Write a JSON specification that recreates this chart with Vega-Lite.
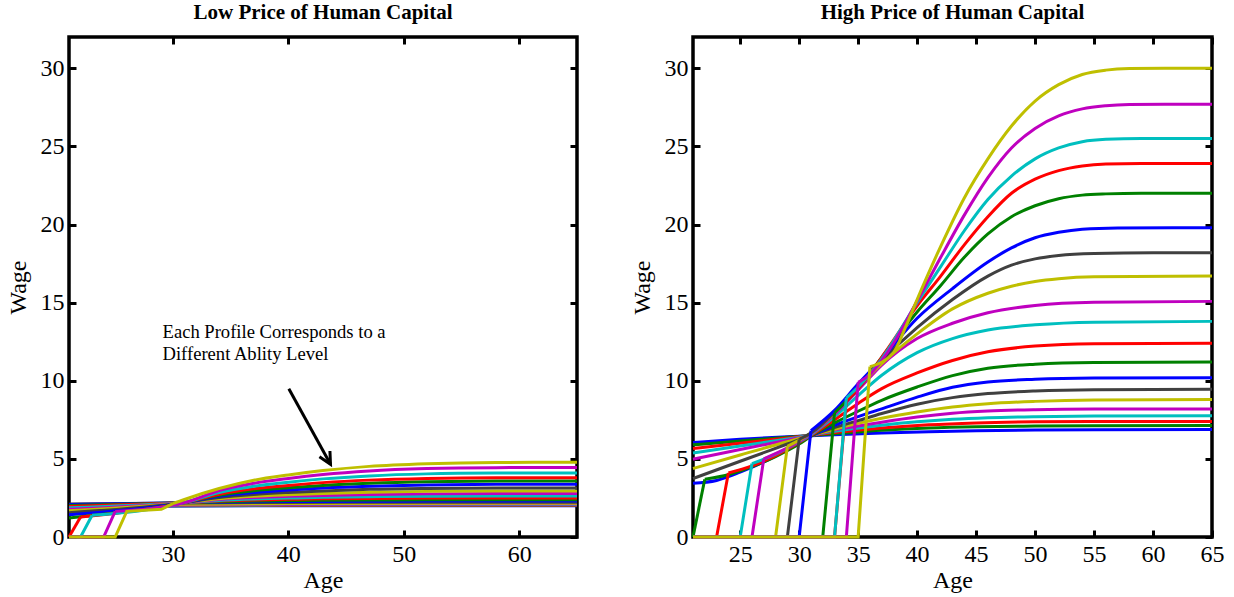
{
"$schema":"https://vega.github.io/schema/vega-lite/v6.json",
"background":"white",
"padding":{"left":4,"top":0,"right":4,"bottom":0},
"datasets":{"d":[
{"p":"H","c":1,"s":"c","a":21,"w":6.05},{"p":"H","c":1,"s":"c","a":25,"w":6.25},{"p":"H","c":1,"s":"c","a":29,"w":6.42},{"p":"H","c":1,"s":"c","a":33,"w":6.55},{"p":"H","c":1,"s":"c","a":37,"w":6.66},{"p":"H","c":1,"s":"c","a":41,"w":6.74},{"p":"H","c":1,"s":"c","a":45,"w":6.8},{"p":"H","c":1,"s":"c","a":50,"w":6.85},{"p":"H","c":1,"s":"c","a":55,"w":6.87},{"p":"H","c":1,"s":"c","a":65,"w":6.88},
{"p":"H","c":2,"s":"c","a":21,"w":5.9},{"p":"H","c":2,"s":"c","a":25,"w":6.15},{"p":"H","c":2,"s":"c","a":29,"w":6.38},{"p":"H","c":2,"s":"c","a":33,"w":6.6},{"p":"H","c":2,"s":"c","a":37,"w":6.83},{"p":"H","c":2,"s":"c","a":41,"w":6.98},{"p":"H","c":2,"s":"c","a":45,"w":7.06},{"p":"H","c":2,"s":"c","a":50,"w":7.1},{"p":"H","c":2,"s":"c","a":55,"w":7.12},{"p":"H","c":2,"s":"c","a":65,"w":7.13},
{"p":"H","c":3,"s":"c","a":21,"w":5.66},{"p":"H","c":3,"s":"c","a":25,"w":6.0},{"p":"H","c":3,"s":"c","a":29,"w":6.33},{"p":"H","c":3,"s":"c","a":33,"w":6.68},{"p":"H","c":3,"s":"c","a":37,"w":6.97},{"p":"H","c":3,"s":"c","a":41,"w":7.18},{"p":"H","c":3,"s":"c","a":45,"w":7.3},{"p":"H","c":3,"s":"c","a":50,"w":7.37},{"p":"H","c":3,"s":"c","a":55,"w":7.39},{"p":"H","c":3,"s":"c","a":65,"w":7.4},
{"p":"H","c":4,"s":"c","a":21,"w":5.37},{"p":"H","c":4,"s":"c","a":25,"w":5.82},{"p":"H","c":4,"s":"c","a":29,"w":6.27},{"p":"H","c":4,"s":"c","a":33,"w":6.76},{"p":"H","c":4,"s":"c","a":37,"w":7.15},{"p":"H","c":4,"s":"c","a":40,"w":7.37},{"p":"H","c":4,"s":"c","a":43,"w":7.53},{"p":"H","c":4,"s":"c","a":46,"w":7.63},{"p":"H","c":4,"s":"c","a":50,"w":7.7},{"p":"H","c":4,"s":"c","a":55,"w":7.74},{"p":"H","c":4,"s":"c","a":65,"w":7.76},
{"p":"H","c":5,"s":"c","a":21,"w":4.98},{"p":"H","c":5,"s":"c","a":25,"w":5.6},{"p":"H","c":5,"s":"c","a":29,"w":6.2},{"p":"H","c":5,"s":"c","a":31,"w":6.5},{"p":"H","c":5,"s":"c","a":33,"w":6.85},{"p":"H","c":5,"s":"c","a":35,"w":7.1},{"p":"H","c":5,"s":"c","a":37,"w":7.35},{"p":"H","c":5,"s":"c","a":40,"w":7.68},{"p":"H","c":5,"s":"c","a":43,"w":7.92},{"p":"H","c":5,"s":"c","a":46,"w":8.06},{"p":"H","c":5,"s":"c","a":50,"w":8.15},{"p":"H","c":5,"s":"c","a":55,"w":8.19},{"p":"H","c":5,"s":"c","a":65,"w":8.2},
{"p":"H","c":6,"s":"c","a":21,"w":4.38},{"p":"H","c":6,"s":"c","a":25,"w":5.25},{"p":"H","c":6,"s":"c","a":29,"w":6.1},{"p":"H","c":6,"s":"c","a":31,"w":6.5},{"p":"H","c":6,"s":"c","a":33,"w":6.9},{"p":"H","c":6,"s":"c","a":35,"w":7.27},{"p":"H","c":6,"s":"c","a":37,"w":7.6},{"p":"H","c":6,"s":"c","a":40,"w":8.0},{"p":"H","c":6,"s":"c","a":43,"w":8.32},{"p":"H","c":6,"s":"c","a":46,"w":8.53},{"p":"H","c":6,"s":"c","a":50,"w":8.68},{"p":"H","c":6,"s":"c","a":55,"w":8.77},{"p":"H","c":6,"s":"c","a":65,"w":8.8},
{"p":"H","c":7,"s":"c","a":21,"w":3.74},{"p":"H","c":7,"s":"c","a":25,"w":4.85},{"p":"H","c":7,"s":"c","a":29,"w":5.95},{"p":"H","c":7,"s":"c","a":31,"w":6.5},{"p":"H","c":7,"s":"c","a":33,"w":7.0},{"p":"H","c":7,"s":"c","a":35,"w":7.45},{"p":"H","c":7,"s":"c","a":37,"w":7.9},{"p":"H","c":7,"s":"c","a":40,"w":8.5},{"p":"H","c":7,"s":"c","a":43,"w":8.92},{"p":"H","c":7,"s":"c","a":46,"w":9.18},{"p":"H","c":7,"s":"c","a":50,"w":9.35},{"p":"H","c":7,"s":"c","a":55,"w":9.43},{"p":"H","c":7,"s":"c","a":65,"w":9.45},
{"p":"H","c":8,"s":"c","a":21,"w":3.44},{"p":"H","c":8,"s":"c","a":23,"w":3.62},{"p":"H","c":8,"s":"c","a":25,"w":4.15},{"p":"H","c":8,"s":"c","a":27,"w":4.8},{"p":"H","c":8,"s":"c","a":29,"w":5.6},{"p":"H","c":8,"s":"c","a":31,"w":6.45},{"p":"H","c":8,"s":"c","a":33,"w":7.15},{"p":"H","c":8,"s":"c","a":35,"w":7.7},{"p":"H","c":8,"s":"c","a":37,"w":8.2},{"p":"H","c":8,"s":"c","a":40,"w":8.95},{"p":"H","c":8,"s":"c","a":43,"w":9.58},{"p":"H","c":8,"s":"c","a":46,"w":9.92},{"p":"H","c":8,"s":"c","a":50,"w":10.1},{"p":"H","c":8,"s":"c","a":55,"w":10.18},{"p":"H","c":8,"s":"c","a":65,"w":10.2},
{"p":"H","c":9,"s":"j","a":21,"w":0},{"p":"H","c":9,"s":"j","a":22,"w":3.7},
{"p":"H","c":9,"s":"c","a":22,"w":3.7},{"p":"H","c":9,"s":"c","a":24,"w":3.98},{"p":"H","c":9,"s":"c","a":26,"w":4.5},{"p":"H","c":9,"s":"c","a":28,"w":5.15},{"p":"H","c":9,"s":"c","a":30,"w":5.95},{"p":"H","c":9,"s":"c","a":31,"w":6.45},{"p":"H","c":9,"s":"c","a":33,"w":7.3},{"p":"H","c":9,"s":"c","a":35,"w":8.05},{"p":"H","c":9,"s":"c","a":37,"w":8.75},{"p":"H","c":9,"s":"c","a":40,"w":9.6},{"p":"H","c":9,"s":"c","a":43,"w":10.33},{"p":"H","c":9,"s":"c","a":46,"w":10.8},{"p":"H","c":9,"s":"c","a":50,"w":11.06},{"p":"H","c":9,"s":"c","a":55,"w":11.17},{"p":"H","c":9,"s":"c","a":65,"w":11.2},
{"p":"H","c":10,"s":"j","a":21,"w":0},{"p":"H","c":10,"s":"j","a":23,"w":0},{"p":"H","c":10,"s":"j","a":24,"w":4.1},
{"p":"H","c":10,"s":"c","a":24,"w":4.1},{"p":"H","c":10,"s":"c","a":26,"w":4.55},{"p":"H","c":10,"s":"c","a":28,"w":5.2},{"p":"H","c":10,"s":"c","a":30,"w":6.05},{"p":"H","c":10,"s":"c","a":31,"w":6.5},{"p":"H","c":10,"s":"c","a":33,"w":7.5},{"p":"H","c":10,"s":"c","a":35,"w":8.55},{"p":"H","c":10,"s":"c","a":37,"w":9.5},{"p":"H","c":10,"s":"c","a":40,"w":10.5},{"p":"H","c":10,"s":"c","a":43,"w":11.3},{"p":"H","c":10,"s":"c","a":46,"w":11.85},{"p":"H","c":10,"s":"c","a":50,"w":12.22},{"p":"H","c":10,"s":"c","a":55,"w":12.37},{"p":"H","c":10,"s":"c","a":65,"w":12.4},
{"p":"H","c":11,"s":"j","a":21,"w":0},{"p":"H","c":11,"s":"j","a":25,"w":0},{"p":"H","c":11,"s":"j","a":26,"w":4.7},
{"p":"H","c":11,"s":"c","a":26,"w":4.7},{"p":"H","c":11,"s":"c","a":28,"w":5.3},{"p":"H","c":11,"s":"c","a":30,"w":6.1},{"p":"H","c":11,"s":"c","a":31,"w":6.55},{"p":"H","c":11,"s":"c","a":33,"w":7.7},{"p":"H","c":11,"s":"c","a":35,"w":9.05},{"p":"H","c":11,"s":"c","a":37,"w":10.35},{"p":"H","c":11,"s":"c","a":40,"w":11.8},{"p":"H","c":11,"s":"c","a":43,"w":12.7},{"p":"H","c":11,"s":"c","a":46,"w":13.25},{"p":"H","c":11,"s":"c","a":50,"w":13.58},{"p":"H","c":11,"s":"c","a":55,"w":13.75},{"p":"H","c":11,"s":"c","a":65,"w":13.8},
{"p":"H","c":12,"s":"j","a":21,"w":0},{"p":"H","c":12,"s":"j","a":26,"w":0},{"p":"H","c":12,"s":"j","a":27,"w":5.0},
{"p":"H","c":12,"s":"c","a":27,"w":5.0},{"p":"H","c":12,"s":"c","a":29,"w":5.7},{"p":"H","c":12,"s":"c","a":31,"w":6.6},{"p":"H","c":12,"s":"c","a":33,"w":7.85},{"p":"H","c":12,"s":"c","a":35,"w":9.4},{"p":"H","c":12,"s":"c","a":37,"w":11.0},{"p":"H","c":12,"s":"c","a":40,"w":12.7},{"p":"H","c":12,"s":"c","a":43,"w":13.68},{"p":"H","c":12,"s":"c","a":46,"w":14.35},{"p":"H","c":12,"s":"c","a":50,"w":14.82},{"p":"H","c":12,"s":"c","a":55,"w":15.02},{"p":"H","c":12,"s":"c","a":65,"w":15.08},
{"p":"H","c":13,"s":"j","a":21,"w":0},{"p":"H","c":13,"s":"j","a":28,"w":0},{"p":"H","c":13,"s":"j","a":29,"w":5.8},
{"p":"H","c":13,"s":"c","a":29,"w":5.8},{"p":"H","c":13,"s":"c","a":31,"w":6.65},{"p":"H","c":13,"s":"c","a":33,"w":7.95},{"p":"H","c":13,"s":"c","a":35,"w":9.6},{"p":"H","c":13,"s":"c","a":37,"w":11.1},{"p":"H","c":13,"s":"c","a":40,"w":13.0},{"p":"H","c":13,"s":"c","a":43,"w":14.6},{"p":"H","c":13,"s":"c","a":46,"w":15.6},{"p":"H","c":13,"s":"c","a":48,"w":16.05},{"p":"H","c":13,"s":"c","a":50,"w":16.35},{"p":"H","c":13,"s":"c","a":52,"w":16.53},{"p":"H","c":13,"s":"c","a":55,"w":16.65},{"p":"H","c":13,"s":"c","a":65,"w":16.7},
{"p":"H","c":14,"s":"j","a":21,"w":0},{"p":"H","c":14,"s":"j","a":29,"w":0},{"p":"H","c":14,"s":"j","a":30,"w":6.25},
{"p":"H","c":14,"s":"c","a":30,"w":6.25},{"p":"H","c":14,"s":"c","a":31,"w":6.65},{"p":"H","c":14,"s":"c","a":33,"w":8.0},{"p":"H","c":14,"s":"c","a":35,"w":9.7},{"p":"H","c":14,"s":"c","a":37,"w":11.3},{"p":"H","c":14,"s":"c","a":40,"w":13.4},{"p":"H","c":14,"s":"c","a":43,"w":15.2},{"p":"H","c":14,"s":"c","a":46,"w":16.7},{"p":"H","c":14,"s":"c","a":48,"w":17.4},{"p":"H","c":14,"s":"c","a":50,"w":17.8},{"p":"H","c":14,"s":"c","a":52,"w":18.02},{"p":"H","c":14,"s":"c","a":55,"w":18.15},{"p":"H","c":14,"s":"c","a":60,"w":18.2},{"p":"H","c":14,"s":"c","a":65,"w":18.2},
{"p":"H","c":15,"s":"j","a":21,"w":0},{"p":"H","c":15,"s":"j","a":30,"w":0},{"p":"H","c":15,"s":"j","a":31,"w":6.8},
{"p":"H","c":15,"s":"c","a":31,"w":6.8},{"p":"H","c":15,"s":"c","a":33,"w":8.1},{"p":"H","c":15,"s":"c","a":35,"w":9.8},{"p":"H","c":15,"s":"c","a":37,"w":11.4},{"p":"H","c":15,"s":"c","a":40,"w":14.0},{"p":"H","c":15,"s":"c","a":43,"w":15.9},{"p":"H","c":15,"s":"c","a":46,"w":17.6},{"p":"H","c":15,"s":"c","a":48,"w":18.5},{"p":"H","c":15,"s":"c","a":50,"w":19.15},{"p":"H","c":15,"s":"c","a":52,"w":19.5},{"p":"H","c":15,"s":"c","a":54,"w":19.7},{"p":"H","c":15,"s":"c","a":57,"w":19.78},{"p":"H","c":15,"s":"c","a":65,"w":19.8},
{"p":"H","c":16,"s":"j","a":21,"w":0},{"p":"H","c":16,"s":"j","a":32,"w":0},{"p":"H","c":16,"s":"j","a":33,"w":7.95},
{"p":"H","c":16,"s":"c","a":33,"w":7.95},{"p":"H","c":16,"s":"c","a":35,"w":9.5},{"p":"H","c":16,"s":"c","a":37,"w":11.5},{"p":"H","c":16,"s":"c","a":40,"w":14.4},{"p":"H","c":16,"s":"c","a":42,"w":16.1},{"p":"H","c":16,"s":"c","a":44,"w":17.9},{"p":"H","c":16,"s":"c","a":46,"w":19.4},{"p":"H","c":16,"s":"c","a":48,"w":20.5},{"p":"H","c":16,"s":"c","a":50,"w":21.2},{"p":"H","c":16,"s":"c","a":52,"w":21.65},{"p":"H","c":16,"s":"c","a":54,"w":21.88},{"p":"H","c":16,"s":"c","a":56,"w":21.96},{"p":"H","c":16,"s":"c","a":59,"w":22.0},{"p":"H","c":16,"s":"c","a":65,"w":22.0},
{"p":"H","c":17,"s":"j","a":21,"w":0},{"p":"H","c":17,"s":"j","a":33,"w":0},{"p":"H","c":17,"s":"j","a":34,"w":8.7},
{"p":"H","c":17,"s":"c","a":34,"w":8.7},{"p":"H","c":17,"s":"c","a":35,"w":9.5},{"p":"H","c":17,"s":"c","a":37,"w":11.5},{"p":"H","c":17,"s":"c","a":40,"w":14.8},{"p":"H","c":17,"s":"c","a":42,"w":16.7},{"p":"H","c":17,"s":"c","a":44,"w":18.7},{"p":"H","c":17,"s":"c","a":46,"w":20.5},{"p":"H","c":17,"s":"c","a":48,"w":22.0},{"p":"H","c":17,"s":"c","a":50,"w":22.9},{"p":"H","c":17,"s":"c","a":52,"w":23.45},{"p":"H","c":17,"s":"c","a":54,"w":23.75},{"p":"H","c":17,"s":"c","a":56,"w":23.87},{"p":"H","c":17,"s":"c","a":59,"w":23.9},{"p":"H","c":17,"s":"c","a":65,"w":23.9},
{"p":"H","c":18,"s":"j","a":21,"w":0},{"p":"H","c":18,"s":"j","a":33,"w":0},{"p":"H","c":18,"s":"j","a":34,"w":8.9},
{"p":"H","c":18,"s":"c","a":34,"w":8.9},{"p":"H","c":18,"s":"c","a":35,"w":9.6},{"p":"H","c":18,"s":"c","a":37,"w":11.4},{"p":"H","c":18,"s":"c","a":40,"w":15.0},{"p":"H","c":18,"s":"c","a":42,"w":17.3},{"p":"H","c":18,"s":"c","a":44,"w":19.6},{"p":"H","c":18,"s":"c","a":46,"w":21.6},{"p":"H","c":18,"s":"c","a":48,"w":23.1},{"p":"H","c":18,"s":"c","a":50,"w":24.2},{"p":"H","c":18,"s":"c","a":52,"w":24.9},{"p":"H","c":18,"s":"c","a":54,"w":25.3},{"p":"H","c":18,"s":"c","a":56,"w":25.45},{"p":"H","c":18,"s":"c","a":59,"w":25.5},{"p":"H","c":18,"s":"c","a":65,"w":25.5},
{"p":"H","c":19,"s":"j","a":21,"w":0},{"p":"H","c":19,"s":"j","a":34,"w":0},{"p":"H","c":19,"s":"j","a":35,"w":9.9},
{"p":"H","c":19,"s":"c","a":35,"w":9.9},{"p":"H","c":19,"s":"c","a":36,"w":10.4},{"p":"H","c":19,"s":"c","a":37,"w":11.3},{"p":"H","c":19,"s":"c","a":38,"w":12.4},{"p":"H","c":19,"s":"c","a":40,"w":15.1},{"p":"H","c":19,"s":"c","a":42,"w":17.9},{"p":"H","c":19,"s":"c","a":44,"w":20.6},{"p":"H","c":19,"s":"c","a":46,"w":23.0},{"p":"H","c":19,"s":"c","a":48,"w":24.9},{"p":"H","c":19,"s":"c","a":50,"w":26.15},{"p":"H","c":19,"s":"c","a":52,"w":26.95},{"p":"H","c":19,"s":"c","a":54,"w":27.4},{"p":"H","c":19,"s":"c","a":56,"w":27.6},{"p":"H","c":19,"s":"c","a":58,"w":27.68},{"p":"H","c":19,"s":"c","a":61,"w":27.7},{"p":"H","c":19,"s":"c","a":65,"w":27.7},
{"p":"H","c":20,"s":"j","a":21,"w":0},{"p":"H","c":20,"s":"j","a":35,"w":0},{"p":"H","c":20,"s":"j","a":36,"w":10.9},
{"p":"H","c":20,"s":"c","a":36,"w":10.9},{"p":"H","c":20,"s":"c","a":38,"w":11.8},{"p":"H","c":20,"s":"c","a":39,"w":13.4},{"p":"H","c":20,"s":"c","a":40,"w":15.2},{"p":"H","c":20,"s":"c","a":42,"w":18.6},{"p":"H","c":20,"s":"c","a":44,"w":21.7},{"p":"H","c":20,"s":"c","a":46,"w":24.2},{"p":"H","c":20,"s":"c","a":48,"w":26.3},{"p":"H","c":20,"s":"c","a":50,"w":27.9},{"p":"H","c":20,"s":"c","a":52,"w":28.95},{"p":"H","c":20,"s":"c","a":54,"w":29.6},{"p":"H","c":20,"s":"c","a":56,"w":29.88},{"p":"H","c":20,"s":"c","a":58,"w":29.98},{"p":"H","c":20,"s":"c","a":61,"w":30.0},{"p":"H","c":20,"s":"c","a":65,"w":30.0},
{"p":"L","c":1,"s":"c","a":21,"w":1.97},{"p":"L","c":1,"s":"c","a":31,"w":1.99},{"p":"L","c":1,"s":"c","a":40,"w":2.0},{"p":"L","c":1,"s":"c","a":65,"w":2.0},
{"p":"L","c":2,"s":"c","a":21,"w":1.98},{"p":"L","c":2,"s":"c","a":31,"w":2.0},{"p":"L","c":2,"s":"c","a":40,"w":2.02},{"p":"L","c":2,"s":"c","a":65,"w":2.02},
{"p":"L","c":3,"s":"c","a":21,"w":1.99},{"p":"L","c":3,"s":"c","a":31,"w":2.02},{"p":"L","c":3,"s":"c","a":40,"w":2.04},{"p":"L","c":3,"s":"c","a":65,"w":2.04},
{"p":"L","c":4,"s":"c","a":21,"w":2.0},{"p":"L","c":4,"s":"c","a":31,"w":2.04},{"p":"L","c":4,"s":"c","a":40,"w":2.06},{"p":"L","c":4,"s":"c","a":65,"w":2.07},
{"p":"L","c":5,"s":"c","a":21,"w":2.02},{"p":"L","c":5,"s":"c","a":31,"w":2.07},{"p":"L","c":5,"s":"c","a":40,"w":2.1},{"p":"L","c":5,"s":"c","a":65,"w":2.11},
{"p":"L","c":6,"s":"c","a":21,"w":2.04},{"p":"L","c":6,"s":"c","a":31,"w":2.1},{"p":"L","c":6,"s":"c","a":40,"w":2.14},{"p":"L","c":6,"s":"c","a":65,"w":2.16},
{"p":"L","c":7,"s":"c","a":21,"w":2.12},{"p":"L","c":7,"s":"c","a":31,"w":2.18},{"p":"L","c":7,"s":"c","a":37,"w":2.21},{"p":"L","c":7,"s":"c","a":45,"w":2.22},{"p":"L","c":7,"s":"c","a":65,"w":2.22},
{"p":"L","c":8,"s":"c","a":21,"w":2.08},{"p":"L","c":8,"s":"c","a":31,"w":2.2},{"p":"L","c":8,"s":"c","a":34,"w":2.23},{"p":"L","c":8,"s":"c","a":37,"w":2.26},{"p":"L","c":8,"s":"c","a":40,"w":2.27},{"p":"L","c":8,"s":"c","a":43,"w":2.28},{"p":"L","c":8,"s":"c","a":47,"w":2.29},{"p":"L","c":8,"s":"c","a":52,"w":2.3},{"p":"L","c":8,"s":"c","a":65,"w":2.3},
{"p":"L","c":9,"s":"c","a":21,"w":2.02},{"p":"L","c":9,"s":"c","a":31,"w":2.2},{"p":"L","c":9,"s":"c","a":34,"w":2.26},{"p":"L","c":9,"s":"c","a":37,"w":2.3},{"p":"L","c":9,"s":"c","a":40,"w":2.33},{"p":"L","c":9,"s":"c","a":43,"w":2.35},{"p":"L","c":9,"s":"c","a":47,"w":2.37},{"p":"L","c":9,"s":"c","a":52,"w":2.38},{"p":"L","c":9,"s":"c","a":58,"w":2.39},{"p":"L","c":9,"s":"c","a":65,"w":2.39},
{"p":"L","c":10,"s":"c","a":21,"w":1.95},{"p":"L","c":10,"s":"c","a":31,"w":2.2},{"p":"L","c":10,"s":"c","a":34,"w":2.3},{"p":"L","c":10,"s":"c","a":37,"w":2.37},{"p":"L","c":10,"s":"c","a":40,"w":2.41},{"p":"L","c":10,"s":"c","a":43,"w":2.44},{"p":"L","c":10,"s":"c","a":47,"w":2.47},{"p":"L","c":10,"s":"c","a":52,"w":2.49},{"p":"L","c":10,"s":"c","a":58,"w":2.5},{"p":"L","c":10,"s":"c","a":65,"w":2.5},
{"p":"L","c":11,"s":"c","a":21,"w":1.87},{"p":"L","c":11,"s":"c","a":31,"w":2.2},{"p":"L","c":11,"s":"c","a":34,"w":2.34},{"p":"L","c":11,"s":"c","a":37,"w":2.43},{"p":"L","c":11,"s":"c","a":40,"w":2.49},{"p":"L","c":11,"s":"c","a":43,"w":2.54},{"p":"L","c":11,"s":"c","a":47,"w":2.58},{"p":"L","c":11,"s":"c","a":52,"w":2.61},{"p":"L","c":11,"s":"c","a":58,"w":2.62},{"p":"L","c":11,"s":"c","a":65,"w":2.62},
{"p":"L","c":12,"s":"c","a":21,"w":1.78},{"p":"L","c":12,"s":"c","a":31,"w":2.2},{"p":"L","c":12,"s":"c","a":34,"w":2.4},{"p":"L","c":12,"s":"c","a":37,"w":2.52},{"p":"L","c":12,"s":"c","a":40,"w":2.6},{"p":"L","c":12,"s":"c","a":43,"w":2.66},{"p":"L","c":12,"s":"c","a":47,"w":2.72},{"p":"L","c":12,"s":"c","a":52,"w":2.76},{"p":"L","c":12,"s":"c","a":58,"w":2.78},{"p":"L","c":12,"s":"c","a":65,"w":2.78},
{"p":"L","c":13,"s":"c","a":21,"w":1.68},{"p":"L","c":13,"s":"c","a":31,"w":2.2},{"p":"L","c":13,"s":"c","a":34,"w":2.45},{"p":"L","c":13,"s":"c","a":37,"w":2.61},{"p":"L","c":13,"s":"c","a":40,"w":2.71},{"p":"L","c":13,"s":"c","a":43,"w":2.79},{"p":"L","c":13,"s":"c","a":47,"w":2.87},{"p":"L","c":13,"s":"c","a":52,"w":2.92},{"p":"L","c":13,"s":"c","a":58,"w":2.94},{"p":"L","c":13,"s":"c","a":65,"w":2.94},
{"p":"L","c":14,"s":"c","a":21,"w":1.56},{"p":"L","c":14,"s":"c","a":31,"w":2.2},{"p":"L","c":14,"s":"c","a":34,"w":2.52},{"p":"L","c":14,"s":"c","a":37,"w":2.72},{"p":"L","c":14,"s":"c","a":40,"w":2.85},{"p":"L","c":14,"s":"c","a":43,"w":2.95},{"p":"L","c":14,"s":"c","a":47,"w":3.05},{"p":"L","c":14,"s":"c","a":52,"w":3.11},{"p":"L","c":14,"s":"c","a":58,"w":3.14},{"p":"L","c":14,"s":"c","a":65,"w":3.14},
{"p":"L","c":15,"s":"c","a":21,"w":1.42},{"p":"L","c":15,"s":"c","a":31,"w":2.2},{"p":"L","c":15,"s":"c","a":34,"w":2.6},{"p":"L","c":15,"s":"c","a":37,"w":2.84},{"p":"L","c":15,"s":"c","a":40,"w":3.01},{"p":"L","c":15,"s":"c","a":43,"w":3.14},{"p":"L","c":15,"s":"c","a":47,"w":3.25},{"p":"L","c":15,"s":"c","a":52,"w":3.33},{"p":"L","c":15,"s":"c","a":58,"w":3.37},{"p":"L","c":15,"s":"c","a":65,"w":3.37},
{"p":"L","c":16,"s":"c","a":21,"w":1.22},{"p":"L","c":16,"s":"c","a":31,"w":2.2},{"p":"L","c":16,"s":"c","a":34,"w":2.67},{"p":"L","c":16,"s":"c","a":37,"w":2.96},{"p":"L","c":16,"s":"c","a":40,"w":3.15},{"p":"L","c":16,"s":"c","a":43,"w":3.3},{"p":"L","c":16,"s":"c","a":47,"w":3.44},{"p":"L","c":16,"s":"c","a":52,"w":3.54},{"p":"L","c":16,"s":"c","a":58,"w":3.58},{"p":"L","c":16,"s":"c","a":65,"w":3.58},
{"p":"L","c":17,"s":"j","a":21,"w":0},{"p":"L","c":17,"s":"j","a":22,"w":1.28},
{"p":"L","c":17,"s":"c","a":22,"w":1.28},{"p":"L","c":17,"s":"c","a":31,"w":2.2},{"p":"L","c":17,"s":"c","a":34,"w":2.74},{"p":"L","c":17,"s":"c","a":37,"w":3.08},{"p":"L","c":17,"s":"c","a":40,"w":3.3},{"p":"L","c":17,"s":"c","a":43,"w":3.48},{"p":"L","c":17,"s":"c","a":47,"w":3.64},{"p":"L","c":17,"s":"c","a":52,"w":3.75},{"p":"L","c":17,"s":"c","a":58,"w":3.8},{"p":"L","c":17,"s":"c","a":65,"w":3.8},
{"p":"L","c":18,"s":"j","a":21,"w":0},{"p":"L","c":18,"s":"j","a":22,"w":0},{"p":"L","c":18,"s":"j","a":23,"w":1.39},
{"p":"L","c":18,"s":"c","a":23,"w":1.39},{"p":"L","c":18,"s":"c","a":31,"w":2.2},{"p":"L","c":18,"s":"c","a":34,"w":2.85},{"p":"L","c":18,"s":"c","a":37,"w":3.25},{"p":"L","c":18,"s":"c","a":40,"w":3.51},{"p":"L","c":18,"s":"c","a":43,"w":3.72},{"p":"L","c":18,"s":"c","a":47,"w":3.91},{"p":"L","c":18,"s":"c","a":52,"w":4.04},{"p":"L","c":18,"s":"c","a":58,"w":4.09},{"p":"L","c":18,"s":"c","a":65,"w":4.1},
{"p":"L","c":19,"s":"j","a":21,"w":0},{"p":"L","c":19,"s":"j","a":24,"w":0},{"p":"L","c":19,"s":"j","a":25,"w":1.64},
{"p":"L","c":19,"s":"c","a":25,"w":1.64},{"p":"L","c":19,"s":"c","a":31,"w":2.2},{"p":"L","c":19,"s":"c","a":34,"w":2.97},{"p":"L","c":19,"s":"c","a":37,"w":3.44},{"p":"L","c":19,"s":"c","a":40,"w":3.75},{"p":"L","c":19,"s":"c","a":43,"w":4.0},{"p":"L","c":19,"s":"c","a":47,"w":4.23},{"p":"L","c":19,"s":"c","a":52,"w":4.38},{"p":"L","c":19,"s":"c","a":58,"w":4.44},{"p":"L","c":19,"s":"c","a":65,"w":4.45},
{"p":"L","c":20,"s":"j","a":21,"w":0},{"p":"L","c":20,"s":"j","a":25,"w":0},{"p":"L","c":20,"s":"j","a":26,"w":1.64},{"p":"L","c":20,"s":"j","a":29,"w":1.77},{"p":"L","c":20,"s":"j","a":30,"w":2.13},
{"p":"L","c":20,"s":"c","a":30,"w":2.13},{"p":"L","c":20,"s":"c","a":31,"w":2.4},{"p":"L","c":20,"s":"c","a":34,"w":3.1},{"p":"L","c":20,"s":"c","a":37,"w":3.63},{"p":"L","c":20,"s":"c","a":40,"w":3.97},{"p":"L","c":20,"s":"c","a":43,"w":4.25},{"p":"L","c":20,"s":"c","a":47,"w":4.52},{"p":"L","c":20,"s":"c","a":52,"w":4.69},{"p":"L","c":20,"s":"c","a":58,"w":4.77},{"p":"L","c":20,"s":"c","a":65,"w":4.78}
]},
"data":{"name":"d"},
"spacing":43,
"hconcat":[
{
"title":{"text":"Low Price of Human Capital"},
"width":508,"height":500,
"layer":[
{"transform":[{"filter":"datum.p === 'L' && datum.s === 'c'"}],
 "mark":{"type":"line","interpolate":"monotone","strokeWidth":3},
 "encoding":{
  "x":{"field":"a","type":"quantitative","scale":{"domain":[21,65],"nice":false,"zero":false},"axis":{"title":"Age","values":[30,40,50,60]}},
  "y":{"field":"w","type":"quantitative","scale":{"domain":[0,32],"nice":false,"zero":false},"axis":{"title":"Wage","values":[0,5,10,15,20,25,30]}},
  "color":{"field":"c","type":"nominal","legend":null,"scale":{"domain":[1,2,3,4,5,6,7,8,9,10,11,12,13,14,15,16,17,18,19,20],"range":["#0000FF","#008000","#FF0000","#00BFBF","#BF00BF","#BFBF00","#404040","#0000FF","#008000","#FF0000","#00BFBF","#BF00BF","#BFBF00","#404040","#0000FF","#008000","#FF0000","#00BFBF","#BF00BF","#BFBF00"]}}
 }},
{"transform":[{"filter":"datum.p === 'L' && datum.s === 'j'"}],
 "mark":{"type":"line","interpolate":"linear","strokeWidth":3},
 "encoding":{
  "x":{"field":"a","type":"quantitative","axis":null},
  "y":{"field":"w","type":"quantitative","axis":null},
  "color":{"field":"c","type":"nominal","legend":null}
 }},
{"transform":[{"filter":"datum.p === 'L'"}],
 "mark":{"type":"point","opacity":0},
 "encoding":{
  "x":{"field":"a","type":"quantitative","axis":{"orient":"top","labels":false,"title":null,"values":[30,40,50,60]}},
  "y":{"field":"w","type":"quantitative","axis":{"orient":"right","labels":false,"title":null,"values":[0,5,10,15,20,25,30]}}
 }},
{"data":{"values":[{"a":29.1,"w":12.73,"t":"Each Profile Corresponds to a"},{"a":29.1,"w":11.3,"t":"Different Ablity Level"}]},
 "mark":{"type":"text","align":"left","baseline":"alphabetic","font":"Liberation Serif","fontSize":18.6,"color":"black"},
 "encoding":{
  "x":{"field":"a","type":"quantitative","axis":null},
  "y":{"field":"w","type":"quantitative","axis":null},
  "text":{"field":"t"}
 }},
{"data":{"values":[{"a":40.04,"w":9.49,"a2":43.65,"w2":4.65}]},
 "mark":{"type":"rule","strokeWidth":3,"color":"black"},
 "encoding":{
  "x":{"field":"a","type":"quantitative","axis":null},
  "y":{"field":"w","type":"quantitative","axis":null},
  "x2":{"field":"a2"},
  "y2":{"field":"w2"}
 }},
{"data":{"values":[{"a":40.04,"w":9.49,"a2":43.65,"w2":4.65}]},
 "mark":{"type":"point","shape":"M -0.5 -1 L 0 0 L 0.5 -1","filled":false,"stroke":"black","strokeWidth":3,"size":576,"angle":331,"opacity":1},
 "encoding":{
  "x":{"field":"a2","type":"quantitative","axis":null},
  "y":{"field":"w2","type":"quantitative","axis":null}
 }}
],
"resolve":{"axis":{"x":"independent","y":"independent"}}
},
{
"title":{"text":"High Price of Human Capital"},
"width":519,"height":500,
"layer":[
{"transform":[{"filter":"datum.p === 'H' && datum.s === 'c'"}],
 "mark":{"type":"line","interpolate":"monotone","strokeWidth":3},
 "encoding":{
  "x":{"field":"a","type":"quantitative","scale":{"domain":[21,65],"nice":false,"zero":false},"axis":{"title":"Age","values":[25,30,35,40,45,50,55,60,65]}},
  "y":{"field":"w","type":"quantitative","scale":{"domain":[0,32],"nice":false,"zero":false},"axis":{"title":"Wage","values":[0,5,10,15,20,25,30]}},
  "color":{"field":"c","type":"nominal","legend":null}
 }},
{"transform":[{"filter":"datum.p === 'H' && datum.s === 'j'"}],
 "mark":{"type":"line","interpolate":"linear","strokeWidth":3},
 "encoding":{
  "x":{"field":"a","type":"quantitative","axis":null},
  "y":{"field":"w","type":"quantitative","axis":null},
  "color":{"field":"c","type":"nominal","legend":null}
 }},
{"transform":[{"filter":"datum.p === 'H'"}],
 "mark":{"type":"point","opacity":0},
 "encoding":{
  "x":{"field":"a","type":"quantitative","axis":{"orient":"top","labels":false,"title":null,"values":[25,30,35,40,45,50,55,60,65]}},
  "y":{"field":"w","type":"quantitative","axis":{"orient":"right","labels":false,"title":null,"values":[0,5,10,15,20,25,30]}}
 }}
],
"resolve":{"axis":{"x":"independent","y":"independent"}}
}
],
"config":{
 "view":{"stroke":"black","strokeWidth":3.5},
 "font":"Liberation Serif",
 "axis":{"grid":false,"domain":false,"tickColor":"black","tickWidth":3,"tickSize":-7,"labelFont":"Liberation Serif","labelFontSize":24,"labelColor":"black","labelPadding":12,"labelFlush":false,"labelOverlap":false,"titleFont":"Liberation Serif","titleFontSize":24,"titleFontWeight":"normal","titleColor":"black"},
 "axisX":{"titlePadding":2},
 "axisY":{"titlePadding":10},
 "title":{"font":"Liberation Serif","fontSize":21,"fontWeight":"bold","color":"black","anchor":"middle","offset":12.5}
}
}
